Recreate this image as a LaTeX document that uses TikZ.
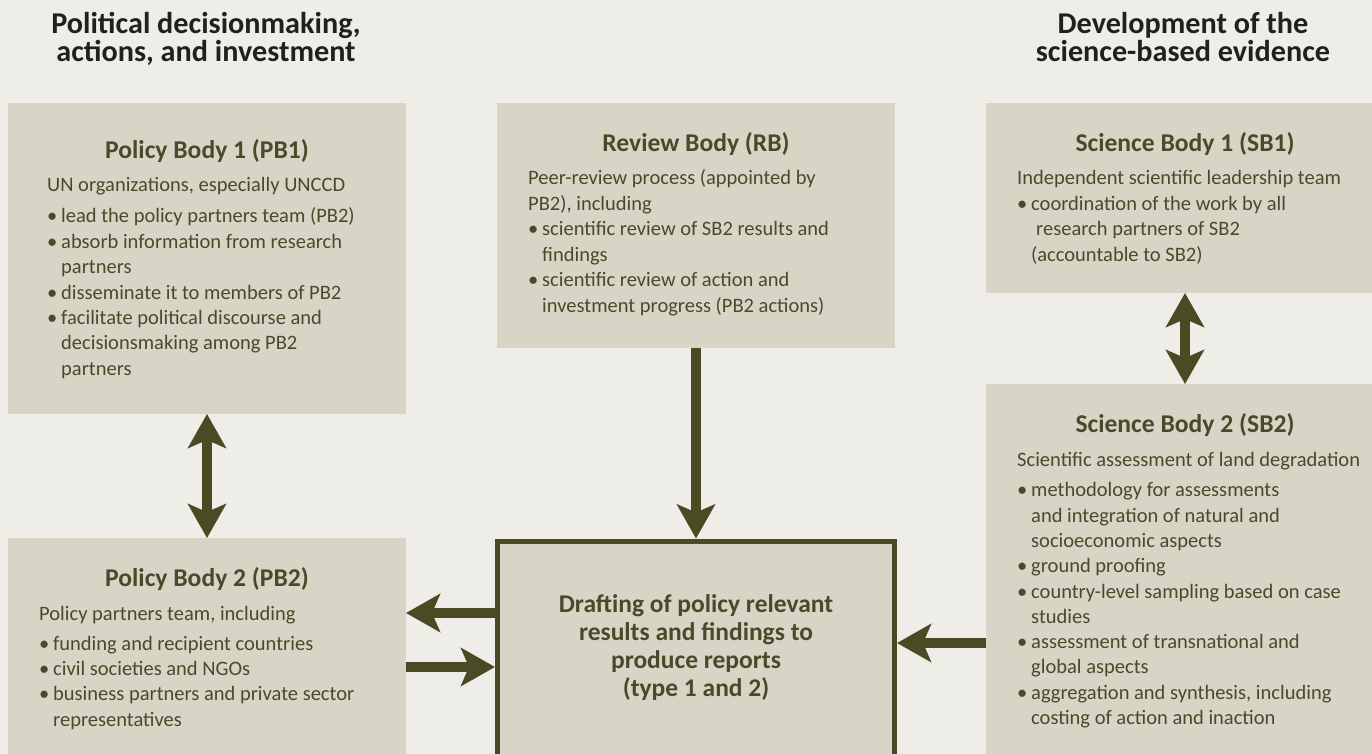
\documentclass[tikz,border=0pt]{standalone}
\usepackage{fontspec}
\setmainfont{Carlito}
\usetikzlibrary{arrows.meta}
\definecolor{bgc}{RGB}{238,237,232}
\definecolor{boxc}{RGB}{216,213,199}
\definecolor{olive}{RGB}{74,74,36}
\definecolor{txt}{RGB}{74,74,42}
\definecolor{ttl}{RGB}{30,34,30}
\newcommand\bu{\makebox[14pt][l]{•}}
\newcommand\ct{\hspace*{14pt}}
\newcommand\Lleft[2]{\vtop{\baselineskip=#1\lineskiplimit=-100pt\lineskip=0pt\halign{##\hfil\cr#2\crcr}}}
\newcommand\Lcent[2]{\vtop{\baselineskip=#1\lineskiplimit=-100pt\lineskip=0pt\halign{\hfil##\hfil\cr#2\crcr}}}
\begin{document}
\begin{tikzpicture}[x=1pt,y=-1pt,
  panel/.style={fill=boxc, draw=none, inner sep=0pt, outer sep=0pt, rectangle, anchor=north west},
  ttlstyle/.style={font=\fontsize{30.2}{28}\selectfont\bfseries, text=ttl, inner sep=0pt, anchor=base},
  head/.style={font=\fontsize{25.6}{30}\selectfont\bfseries, text=txt, inner sep=0pt, anchor=base},
  body/.style={font=\fontsize{20.5}{25.4}\selectfont, text=txt, inner sep=0pt, anchor=base west},
  tipk/.tip={Stealth[length=34pt,width=38pt,inset=8pt]},
  conn/.style={draw=olive, line width=10pt, -tipk},
  dconn/.style={draw=olive, line width=10pt, tipk-tipk},
]
\clip (0,0) rectangle (1372,754);
\fill[bgc] (0,0) rectangle (1372,754);
\useasboundingbox (0,0) rectangle (1372,754);

% titles
\node[ttlstyle] (tleft) at (206,34) {\Lcent{28pt}{Political decisionmaking,\cr actions, and investment}};
\node[ttlstyle] (tright) at (1183,34) {\Lcent{28pt}{Development of the\cr science-based evidence}};

% boxes
\node[panel, minimum width=398pt, minimum height=311pt] (pb1) at (8,103) {};
\node[panel, minimum width=398pt, minimum height=245pt] (rb) at (497,103) {};
\node[panel, minimum width=398pt, minimum height=190pt] (sb1) at (986,103) {};
\node[panel, minimum width=398pt, minimum height=390pt] (sb2) at (986,384) {};
\node[panel, minimum width=398pt, minimum height=230pt] (pb2) at (8,538) {};
\node[rectangle, fill=boxc, draw=olive, line width=5pt, inner sep=0pt, anchor=north,
      minimum width=397pt, minimum height=219pt] (draft) at (696,538.5) {};

% PB1
\node[head] (pb1h) at (207,158.5) {Policy Body 1 (PB1)};
\node[body] (pb1t) at (47,192) {\Lleft{25.4pt}{UN organizations, especially UNCCD\cr
\noalign{\vskip5.5pt}
\bu lead the policy partners team (PB2)\cr
\bu absorb information from research\cr
\ct partners\cr
\bu disseminate it to members of PB2\cr
\bu facilitate political discourse and\cr
\ct decisionsmaking among PB2\cr
\ct partners}};

% RB
\node[head] (rbh) at (696,151.5) {Review Body (RB)};
\node[body] (rbt) at (528,185) {\Lleft{25.4pt}{Peer-review process (appointed by\cr
PB2), including\cr
\bu scientific review of SB2 results and\cr
\ct findings\cr
\bu scientific review of action and\cr
\ct investment progress (PB2 actions)}};

% SB1
\node[head] (sb1h) at (1185,151.5) {Science Body 1 (SB1)};
\node[body] (sb1t) at (1017,185) {\Lleft{25.4pt}{Independent scientific leadership team\cr
\bu coordination of the work by all\cr
\ct\hspace*{5pt}research partners of SB2\cr
\ct(accountable to SB2)}};

% SB2
\node[head] (sb2h) at (1185,432.5) {Science Body 2 (SB2)};
\node[body] (sb2t) at (1017,466) {\Lleft{25.3pt}{Scientific assessment of land degradation\cr
\noalign{\vskip5.5pt}
\bu methodology for assessments\cr
\ct and integration of natural and\cr
\ct socioeconomic aspects\cr
\bu ground proofing\cr
\bu country-level sampling based on case\cr
\ct studies\cr
\bu assessment of transnational and\cr
\ct global aspects\cr
\bu aggregation and synthesis, including\cr
\ct costing of action and inaction}};

% PB2
\node[head] (pb2h) at (207,586.5) {Policy Body 2 (PB2)};
\node[body] (pb2t) at (39,620) {\Lleft{25.4pt}{Policy partners team, including\cr
\noalign{\vskip4.6pt}
\bu funding and recipient countries\cr
\bu civil societies and NGOs\cr
\bu business partners and private sector\cr
\ct representatives}};

% drafting
\node[font=\fontsize{25.5}{28}\selectfont\bfseries, text=txt, inner sep=0pt, anchor=base] (draftt) at (696,612)
  {\Lcent{28.3pt}{Drafting of policy relevant\cr results and findings to\cr produce reports\cr (type 1 and 2)}};

% connectors
\draw[dconn] (pb1.south) -- (pb2.north);
\draw[dconn] (sb1.south) -- (sb2.north);
\draw[conn] (rb.south) -- (draft.north);
\draw[conn] (draft.west |- 0,613) -- (pb2.east |- 0,613);
\draw[conn] (pb2.east |- 0,667) -- (draft.west |- 0,667);
\draw[conn] (sb2.west |- 0,643) -- (draft.east |- 0,643);
\end{tikzpicture}
\end{document}
